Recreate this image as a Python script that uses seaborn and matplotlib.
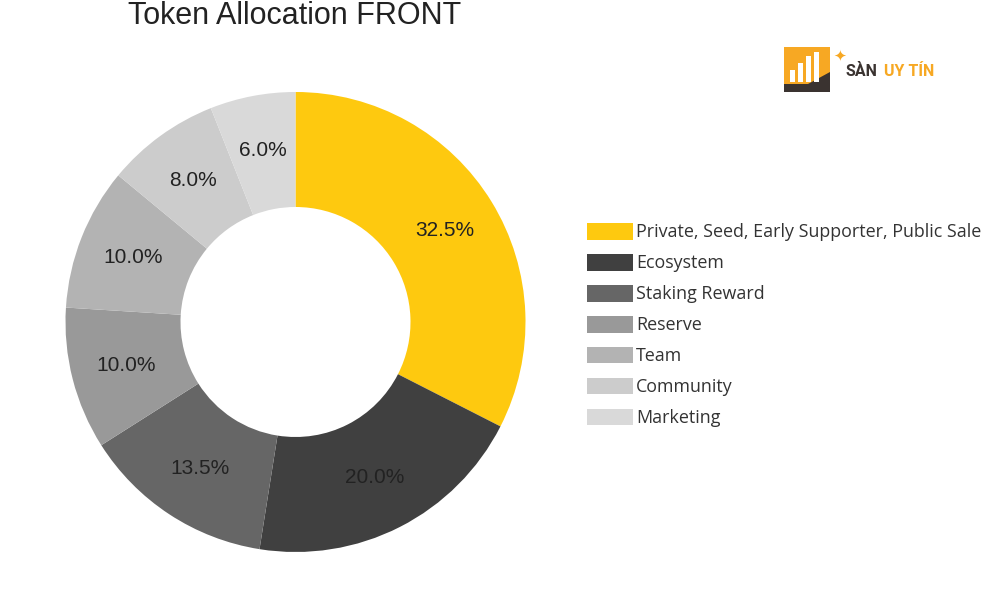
import seaborn as sns
import matplotlib.pyplot as plt
from matplotlib.patches import Rectangle, Polygon

# data
labels = ['Private, Seed, Early Supporter, Public Sale', 'Ecosystem', 'Staking Reward',
          'Reserve', 'Team', 'Community', 'Marketing']
shares = [32.5, 20.0, 13.5, 10.0, 10.0, 8.0, 6.0]
colors = ['#FEC90F', '#404040', '#666666', '#999999', '#B3B3B3', '#CCCCCC', '#D9D9D9']

sns.set_theme(style='white')
plt.rcParams['font.family'] = ['Liberation Sans', 'DejaVu Sans']

fig = plt.figure(figsize=(10, 6), dpi=100)
ax = fig.add_axes([0.0655, 0.08, 0.46, 0.7667])

wedges, texts, autotexts = ax.pie(
    shares, colors=sns.color_palette(colors), startangle=90, counterclock=False,
    autopct='%.1f%%', pctdistance=0.76, radius=1,
    wedgeprops=dict(width=0.5, linewidth=0),
    textprops=dict(fontsize=15, color='#222222'))
ax.set_xlim(-1, 1)
ax.set_ylim(-1, 1)
ax.set_aspect('equal')
ax.axis('off')

fig.text(0.295, 0.973, 'Token Allocation FRONT', ha='center', va='center',
         fontsize=22, color='#222222')

leg = ax.legend(wedges, labels, loc='upper left', bbox_to_anchor=(0.587, 1 - 223 / 600),
                bbox_transform=fig.transFigure, frameon=False,
                handlelength=2.55, handleheight=1.05, handletextpad=0.2,
                labelspacing=0.7, borderpad=0, borderaxespad=0,
                prop={'family': ['Open Sans', 'DejaVu Sans'], 'size': 12.9})
for t in leg.get_texts():
    t.set_color('#333333')

# watermark logo
W, H = 1000, 600
def fx(x): return x / W
def fy(y): return 1 - y / H
fig.patches.append(Rectangle((fx(784), fy(92)), 46 / W, 45 / H, transform=fig.transFigure,
                             facecolor='#F7A823', edgecolor='none'))
fig.patches.append(Polygon([(fx(784), fy(92)), (fx(830), fy(92)), (fx(830), fy(72)),
                            (fx(808), fy(84)), (fx(784), fy(84))],
                           transform=fig.transFigure, facecolor='#3A3330', edgecolor='none'))
for bx, top in [(790, 70), (798, 63), (806, 56), (814, 52)]:
    fig.patches.append(Rectangle((fx(bx), fy(82)), 5 / W, (82 - top) / H,
                                 transform=fig.transFigure, facecolor='white', edgecolor='none'))
fig.text(fx(840), fy(56), '✦', ha='center', va='center', fontsize=11, color='#F7A823',
         family=['DejaVu Sans'])
fig.text(fx(846), fy(71), 'SÀN', ha='left', va='center', fontsize=11.5,
         fontweight='bold', color='#3A3330', family=['Roboto', 'DejaVu Sans'])
fig.text(fx(884), fy(71), 'UY TÍN', ha='left', va='center', fontsize=11.5,
         fontweight='bold', color='#F7A823', family=['Roboto', 'DejaVu Sans'])

fig.savefig('out.png', dpi=100, facecolor='white')
